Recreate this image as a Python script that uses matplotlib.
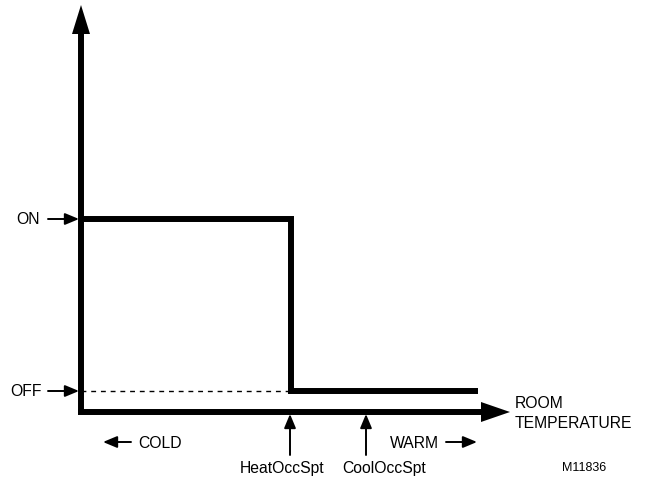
import matplotlib
matplotlib.use("Agg")
import matplotlib.pyplot as plt

# Data (pixel coordinates of the diagram, y downward)
step_x = [81, 291, 291, 478]
step_y = [219, 219, 391, 391]
dash_x = [81, 291]
dash_y = [391, 391]
level_labels = ["ON", "OFF"]
level_y = [219, 391]
setpoint_labels = ["HeatOccSpt", "CoolOccSpt"]
setpoint_x = [290, 366]

W, H = 652, 479
fig = plt.figure(figsize=(W / 100, H / 100), dpi=100)
ax = fig.add_axes([0, 0, 1, 1])
ax.set_xlim(0, W)
ax.set_ylim(H, 0)
ax.axis("off")

FONT = "Liberation Sans"
LW = 4.3
FS = 11.3
ARW = dict(arrowstyle="-|>,head_length=0.6,head_width=0.25", color="black", lw=1.4,
           mutation_scale=14, shrinkA=0, shrinkB=0)

# axes lines
ax.plot([81, 81], [414, 30], color="black", lw=LW, solid_capstyle="butt")
ax.plot([78, 485], [412, 412], color="black", lw=LW, solid_capstyle="butt")
# arrowheads
ax.fill([72, 90, 81], [34, 34, 5], color="black", lw=0)
ax.fill([481, 481, 510], [402, 422, 412], color="black", lw=0)

# step line
ax.plot(step_x, step_y, color="black", lw=LW, solid_joinstyle="miter", solid_capstyle="butt")
ax.plot(dash_x, dash_y, color="black", lw=1, dashes=(3.5, 3.5))

# level labels with arrows
ax.text(16, level_y[0], level_labels[0], fontsize=FS, family=FONT, va="center", ha="left")
ax.text(10, level_y[1], level_labels[1], fontsize=FS, family=FONT, va="center", ha="left")
for y, x0 in zip(level_y, [48, 48]):
    ax.annotate("", xy=(79, y), xytext=(x0, y), arrowprops=ARW)

# setpoint arrows
label_offsets = [-8, 18]
for x, lab, dx in zip(setpoint_x, setpoint_labels, label_offsets):
    ax.annotate("", xy=(x, 414), xytext=(x, 455), arrowprops=ARW)
    ax.text(x + dx, 468, lab, fontsize=FS, family=FONT, va="center", ha="center")

# COLD / WARM
ax.annotate("", xy=(103, 442), xytext=(131, 442), arrowprops=ARW)
ax.text(138, 443, "COLD", fontsize=FS, family=FONT, va="center", ha="left")
ax.text(390, 443, "WARM", fontsize=FS, family=FONT, va="center", ha="left")
ax.annotate("", xy=(477, 442), xytext=(446, 442), arrowprops=ARW)

ax.text(515, 403, "ROOM", fontsize=FS, family=FONT, va="center", ha="left")
ax.text(515, 423, "TEMPERATURE", fontsize=FS, family=FONT, va="center", ha="left")
ax.text(562, 468, "M11836", fontsize=9, family=FONT, va="center", ha="left")

fig.savefig("out.png", dpi=100)
